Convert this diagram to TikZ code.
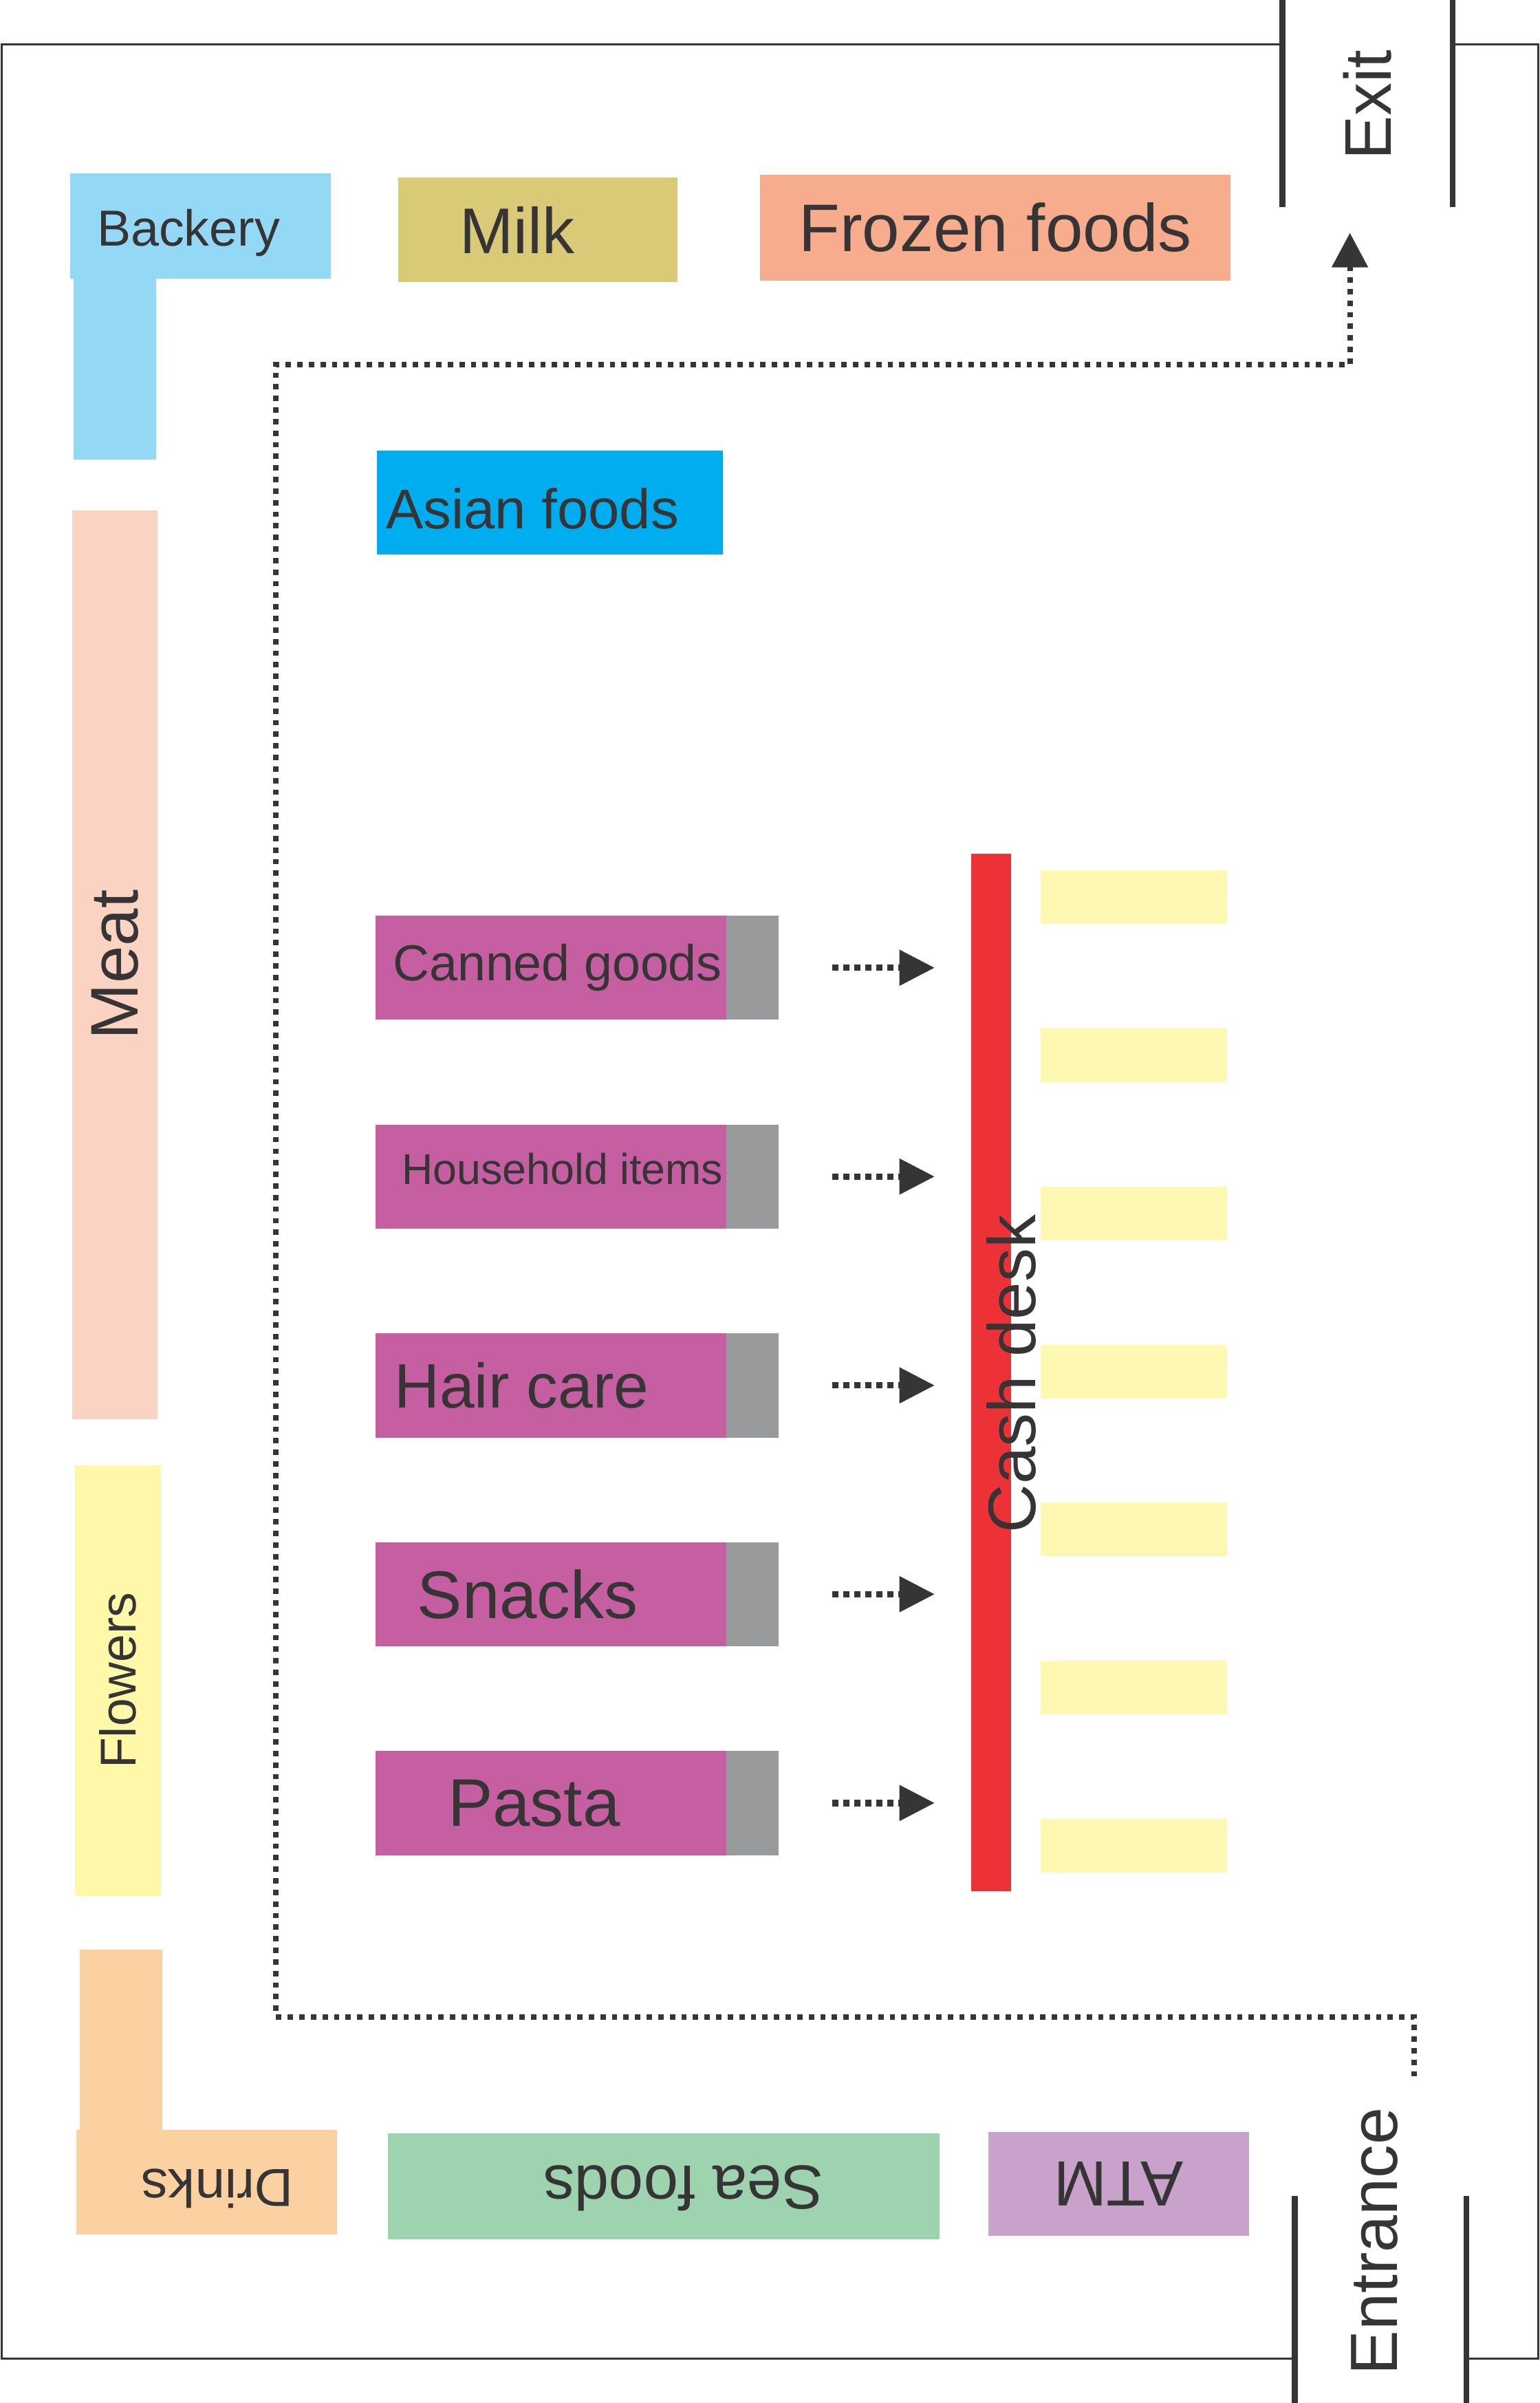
\documentclass[tikz,border=0pt]{standalone}
\usepackage{fontspec}
\setmainfont{Liberation Sans}
\usepackage{tikz}
\usetikzlibrary{positioning, arrows.meta}
\definecolor{ink}{RGB}{54,52,53}
\definecolor{bakeryblue}{RGB}{147,216,245}
\definecolor{milkolive}{RGB}{216,202,118}
\definecolor{frozensalmon}{RGB}{248,172,142}
\definecolor{asiancyan}{RGB}{0,174,239}
\definecolor{meatpink}{RGB}{251,211,195}
\definecolor{flowersyellow}{RGB}{254,248,168}
\definecolor{drinksorange}{RGB}{252,209,162}
\definecolor{seafoodgreen}{RGB}{158,211,175}
\definecolor{atmlilac}{RGB}{200,162,203}
\definecolor{aislemagenta}{RGB}{197,95,161}
\definecolor{endgray}{RGB}{153,154,156}
\definecolor{deskred}{RGB}{236,50,55}
\definecolor{tillyellow}{RGB}{255,248,179}
\tikzstyle{shelf} = [rectangle, inner sep=0pt, outer sep=0pt, text=ink]
\tikzstyle{aisle} = [rectangle, outer sep=0pt, minimum width=4.58cm, minimum height=1.36cm, fill=aislemagenta]
\tikzstyle{aisleend} = [rectangle, outer sep=0pt, minimum width=0.68cm, minimum height=1.36cm, fill=endgray]
\tikzstyle{till} = [rectangle, outer sep=0pt, minimum width=2.44cm, minimum height=0.7cm, fill=tillyellow]
\tikzstyle{tag} = [inner sep=0pt, text=ink]
\tikzstyle{wall} = [draw=ink, line width=0.75pt]
\tikzstyle{door} = [draw=ink, line width=2.2pt]
\tikzstyle{route} = [ink, line width=2pt, dash pattern=on 2pt off 2.3pt, -{Triangle[length=0.45cm, width=0.46cm]}]
\tikzstyle{dotarrow} = [ink, line width=2.4pt, dash pattern=on 2.3pt off 1.8pt, -{Triangle[length=0.46cm, width=0.45cm]}]

\begin{document}
\begin{tikzpicture}[node distance=2.725cm]
        \useasboundingbox (0,0) rectangle (20.1,31.36);

        % outer walls and doors
        \draw [wall] (16.74,30.78) -- (0.02,30.78) -- (0.02,0.58) -- (16.90,0.58);
        \draw [wall] (19.14,0.58) -- (20.08,0.58) -- (20.08,30.78) -- (18.96,30.78);
        \draw [door] (16.74,31.36) -- (16.74,28.66);
        \draw [door] (18.96,31.36) -- (18.96,28.66);
        \draw [door] (16.90,0) -- (16.90,2.70);
        \draw [door] (19.14,0) -- (19.14,2.70);
        \node (exit) [tag, rotate=90, font=\fontsize{24.5}{30}\selectfont] at (17.85,29.99) {Exit};
        \node (entrance) [tag, rotate=90, font=\fontsize{24.8}{30}\selectfont] at (17.94,2.11) {Entrance};

        % shelves along the walls
        \node (bakery) [shelf, fill=bakeryblue, minimum width=3.4cm, minimum height=1.38cm] at (2.62,28.41) {};
        \node (bakeryleg) [shelf, fill=bakeryblue, minimum width=1.08cm, minimum height=2.36cm, below right=0pt and 0.04cm of bakery.south west] {};
        \node [tag, anchor=west, font=\fontsize{18.8}{22}\selectfont] at ([xshift=0.34cm, yshift=-0.09cm]bakery.west) {Backery};
        \node (milk) [shelf, fill=milkolive, minimum width=3.64cm, minimum height=1.36cm] at (7.02,28.36) {};
        \node [tag, font=\fontsize{24}{28}\selectfont] at ([xshift=-0.27cm]milk.center) {Milk};
        \node (frozen) [shelf, fill=frozensalmon, minimum width=6.14cm, minimum height=1.38cm, font=\fontsize{25}{30}\selectfont] at (12.99,28.39) {Frozen foods};
        \node (asian) [shelf, fill=asiancyan, minimum width=4.52cm, minimum height=1.36cm] at (7.18,24.8) {};
        \node [tag, font=\fontsize{20.8}{25}\selectfont] at ([xshift=-0.23cm, yshift=-0.08cm]asian.center) {Asian foods};
        \node (meat) [shelf, fill=meatpink, rotate=90, minimum width=11.86cm, minimum height=1.12cm, font=\fontsize{25}{30}\selectfont] at (1.5,18.77) {Meat};
        \node (flowers) [shelf, fill=flowersyellow, rotate=90, minimum width=5.62cm, minimum height=1.12cm, font=\fontsize{18.7}{22}\selectfont] at (1.54,9.43) {Flowers};
        \node (drinks) [shelf, fill=drinksorange, minimum width=3.4cm, minimum height=1.36cm] at (2.7,2.88) {};
        \node (drinksleg) [shelf, fill=drinksorange, minimum width=1.08cm, minimum height=2.36cm, above right=0pt and 0.04cm of drinks.north west] {};
        \node [tag, rotate=180, font=\fontsize{19.9}{24}\selectfont] at ([xshift=0.14cm, yshift=-0.08cm]drinks.center) {Drinks};
        \node (seafoods) [shelf, fill=seafoodgreen, minimum width=7.2cm, minimum height=1.38cm] at (8.66,2.83) {};
        \node [tag, rotate=180, font=\fontsize{23.1}{28}\selectfont] at ([xshift=0.26cm, yshift=-0.03cm]seafoods.center) {Sea foods};
        \node (atm) [shelf, fill=atmlilac, minimum width=3.4cm, minimum height=1.36cm, rotate=180, font=\fontsize{23.7}{28}\selectfont] at (14.6,2.86) {ATM};

        % aisles
        \node (canned) [aisle] at (7.19,18.73) {};
        \node (household) [aisle, below of=canned] {};
        \node (haircare) [aisle, below of=household] {};
        \node (snacks) [aisle, below of=haircare] {};
        \node (pasta) [aisle, below of=snacks] {};
        \node (cannedend) [aisleend, right=0pt of canned] {};
        \node (householdend) [aisleend, right=0pt of household] {};
        \node (haircareend) [aisleend, right=0pt of haircare] {};
        \node (snacksend) [aisleend, right=0pt of snacks] {};
        \node (pastaend) [aisleend, right=0pt of pasta] {};
        \node [tag, anchor=west, font=\fontsize{18.8}{22}\selectfont] at ([xshift=0.22cm]canned.west) {Canned goods};
        \node [tag, anchor=west, font=\fontsize{16}{19}\selectfont] at ([xshift=0.34cm, yshift=0.1cm]household.west) {Household items};
        \node [tag, anchor=west, font=\fontsize{23.3}{28}\selectfont] at ([xshift=0.24cm]haircare.west) {Hair care};
        \node [tag, anchor=west, font=\fontsize{25}{30}\selectfont] at ([xshift=0.54cm]snacks.west) {Snacks};
        \node [tag, anchor=west, font=\fontsize{25}{30}\selectfont] at ([xshift=0.94cm]pasta.west) {Pasta};

        % cash desk and tills
        \node (desk) [shelf, fill=deskred, minimum width=0.52cm, minimum height=13.54cm] at (12.94,13.45) {};
        \node [tag, rotate=90, font=\fontsize{25}{30}\selectfont] at (13.2,13.43) {Cash desk};
        \node (till1) [till] at (14.8,19.65) {};
        \node (till2) [till, node distance=2.063cm, below of=till1] {};
        \node (till3) [till, node distance=2.063cm, below of=till2] {};
        \node (till4) [till, node distance=2.063cm, below of=till3] {};
        \node (till5) [till, node distance=2.063cm, below of=till4] {};
        \node (till6) [till, node distance=2.063cm, below of=till5] {};
        \node (till7) [till, node distance=2.063cm, below of=till6] {};

        \draw [dotarrow, shorten <=0.7cm, shorten >=0.48cm] (cannedend.east) -- (cannedend.east -| desk.west);
        \draw [dotarrow, shorten <=0.7cm, shorten >=0.48cm] (householdend.east) -- (householdend.east -| desk.west);
        \draw [dotarrow, shorten <=0.7cm, shorten >=0.48cm] (haircareend.east) -- (haircareend.east -| desk.west);
        \draw [dotarrow, shorten <=0.7cm, shorten >=0.48cm] (snacksend.east) -- (snacksend.east -| desk.west);
        \draw [dotarrow, shorten <=0.7cm, shorten >=0.48cm] (pastaend.east) -- (pastaend.east -| desk.west);

        % walking route
        \coordinate (enter) at (18.46,4.26);
        \coordinate (leave) at (17.62,28.32);
        \draw [route] (enter) |- (3.6,5.04) -- (3.6,26.6) -| (leave);

\end{tikzpicture}
\end{document}
